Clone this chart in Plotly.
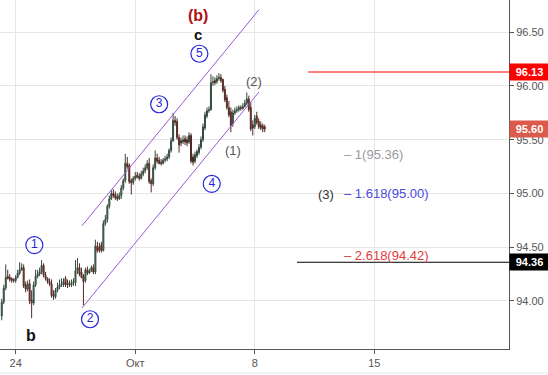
import plotly.graph_objects as go

# 2-hour bars; x = bar index, 0 = 24 Sep 00:00 (12 bars per trading day)
bar_index = list(range(-7, 126))

open_ = [93.86, 93.99, 94.12, 94.23, 94.22, 94.21, 94.20, 94.19, 94.22, 94.26,
         94.29, 94.31, 94.15, 94.11, 94.16, 94.01, 93.98, 94.15, 94.23, 94.25,
         94.27, 94.33, 94.24, 94.21, 94.18, 94.16, 94.06, 94.04, 94.10, 94.13,
         94.15, 94.15, 94.21, 94.17, 94.16, 94.15, 94.17, 94.17, 94.28, 94.31,
         94.27, 94.23, 94.19, 94.29, 94.26, 94.28, 94.31, 94.27, 94.51, 94.50,
         94.52, 94.47, 94.72, 94.76, 94.88, 94.95, 95.00, 94.99, 94.97, 94.95,
         94.98, 95.05, 95.12, 95.28, 95.26, 95.12, 95.10, 95.14, 95.17, 95.16,
         95.14, 95.18, 95.21, 95.24, 95.28, 95.12, 95.09, 95.24, 95.33, 95.31,
         95.29, 95.28, 95.31, 95.32, 95.34, 95.40, 95.49, 95.68, 95.67, 95.52,
         95.49, 95.48, 95.51, 95.50, 95.48, 95.54, 95.34, 95.30, 95.35, 95.38,
         95.43, 95.50, 95.61, 95.72, 95.77, 95.78, 96.03, 96.05, 96.04, 96.07,
         96.08, 96.06, 95.97, 95.89, 95.80, 95.76, 95.65, 95.75, 95.77, 95.78,
         95.80, 95.79, 95.81, 95.84, 95.88, 95.80, 95.64, 95.62, 95.72, 95.67,
         95.64, 95.63, 95.62]
high = [94.02, 94.15, 94.34, 94.29, 94.25, 94.22, 94.21, 94.24, 94.29, 94.36,
        94.35, 94.34, 94.18, 94.19, 94.20, 94.10, 94.18, 94.29, 94.29, 94.31,
        94.38, 94.35, 94.27, 94.22, 94.21, 94.20, 94.10, 94.12, 94.17, 94.20,
        94.21, 94.21, 94.23, 94.20, 94.19, 94.20, 94.21, 94.38, 94.40, 94.35,
        94.31, 94.25, 94.31, 94.32, 94.30, 94.33, 94.34, 94.57, 94.55, 94.54,
        94.55, 94.75, 94.80, 94.90, 94.98, 95.03, 95.04, 95.02, 95.00, 95.01,
        95.08, 95.14, 95.37, 95.34, 95.28, 95.14, 95.16, 95.20, 95.20, 95.19,
        95.21, 95.24, 95.27, 95.31, 95.33, 95.14, 95.27, 95.40, 95.37, 95.34,
        95.32, 95.33, 95.35, 95.37, 95.42, 95.52, 95.75, 95.72, 95.70, 95.55,
        95.52, 95.54, 95.54, 95.53, 95.57, 95.56, 95.37, 95.39, 95.41, 95.46,
        95.53, 95.65, 95.76, 95.80, 95.81, 96.11, 96.09, 96.08, 96.10, 96.12,
        96.11, 96.07, 96.00, 95.92, 95.86, 95.80, 95.78, 95.80, 95.81, 95.82,
        95.82, 95.84, 95.87, 95.94, 95.91, 95.85, 95.68, 95.73, 95.76, 95.70,
        95.67, 95.65, 95.64]
low = [93.82, 93.97, 94.10, 94.20, 94.18, 94.17, 94.17, 94.17, 94.21, 94.24,
       94.28, 94.12, 94.08, 94.09, 93.97, 93.84, 93.96, 94.13, 94.21, 94.23,
       94.25, 94.22, 94.19, 94.16, 94.14, 94.03, 94.01, 94.02, 94.08, 94.11,
       94.13, 94.13, 94.13, 94.12, 94.13, 94.13, 94.14, 94.14, 94.25, 94.23,
       94.21, 93.96, 94.17, 94.24, 94.25, 94.27, 94.25, 94.25, 94.45, 94.45,
       94.45, 94.46, 94.70, 94.73, 94.86, 94.94, 94.96, 94.94, 94.93, 94.94,
       94.95, 95.03, 95.10, 95.23, 95.09, 94.99, 95.08, 95.12, 95.14, 95.12,
       95.13, 95.16, 95.19, 95.22, 95.09, 95.01, 95.07, 95.22, 95.28, 95.27,
       95.26, 95.27, 95.29, 95.30, 95.32, 95.38, 95.48, 95.63, 95.50, 95.38,
       95.44, 95.46, 95.45, 95.44, 95.46, 95.28, 95.26, 95.28, 95.33, 95.36,
       95.41, 95.48, 95.59, 95.70, 95.75, 95.77, 96.00, 96.01, 96.02, 96.05,
       96.03, 95.94, 95.85, 95.78, 95.71, 95.57, 95.62, 95.73, 95.75, 95.76,
       95.77, 95.78, 95.80, 95.82, 95.76, 95.58, 95.54, 95.60, 95.64, 95.60,
       95.59, 95.57, 95.57]
close = [93.99, 94.12, 94.22, 94.21, 94.20, 94.19, 94.19, 94.22, 94.26, 94.29,
         94.31, 94.14, 94.11, 94.16, 94.00, 93.98, 94.15, 94.23, 94.25, 94.27,
         94.33, 94.24, 94.21, 94.18, 94.16, 94.05, 94.04, 94.10, 94.13, 94.15,
         94.16, 94.18, 94.15, 94.15, 94.15, 94.17, 94.18, 94.28, 94.31, 94.25,
         94.22, 94.18, 94.29, 94.26, 94.28, 94.31, 94.27, 94.51, 94.47, 94.47,
         94.47, 94.72, 94.76, 94.88, 94.95, 95.00, 94.98, 94.96, 94.95, 94.98,
         95.05, 95.12, 95.28, 95.25, 95.11, 95.10, 95.14, 95.16, 95.15, 95.14,
         95.18, 95.21, 95.24, 95.28, 95.11, 95.09, 95.24, 95.33, 95.30, 95.28,
         95.28, 95.31, 95.32, 95.34, 95.40, 95.49, 95.68, 95.66, 95.52, 95.45,
         95.47, 95.50, 95.48, 95.47, 95.54, 95.30, 95.29, 95.36, 95.39, 95.43,
         95.50, 95.62, 95.73, 95.77, 95.78, 96.03, 96.04, 96.03, 96.07, 96.08,
         96.05, 95.96, 95.87, 95.80, 95.73, 95.63, 95.75, 95.77, 95.78, 95.80,
         95.79, 95.81, 95.84, 95.88, 95.78, 95.60, 95.61, 95.70, 95.66, 95.62,
         95.61, 95.60, 95.60]

tick_vals = [0, 60, 120, 180]
tick_text = ["24", "Окт", "8", "15"]
y_ticks = [94.0, 94.5, 95.0, 95.5, 96.0, 96.5]
x_range = [-7.88, 247.6]
y_range = [93.553, 96.80]

# channel lines (x index, price)
upper_channel = [(33.3, 94.70), (122.1, 96.71)]
lower_channel = [(33.3, 93.935), (122.1, 95.944)]

# wave circles
circle_labels = ["1", "2", "3", "4", "5"]
circle_x = [9.35, 37.3, 72.0, 98.4, 92.2]
circle_y = [94.52, 93.83, 95.83, 95.09, 96.30]

# horizontal levels
level_red = 96.13
level_red_start = 146.8
level_black = 94.36
level_black_start = 141.2
last_price = 95.60

fib_texts = ["– 1(95.36)", "– 1.618(95.00)", "– 2.618(94.42)"]
fib_levels = [95.36, 95.00, 94.42]
fib_colors = ["#9a9a9a", "#4a4ae0", "#e03c3c"]
fib_x = 163.6

FONT = "Liberation Sans, Arial, sans-serif"

fig = go.Figure()
fig.add_trace(go.Candlestick(
    x=bar_index, open=open_, high=high, low=low, close=close,
    increasing=dict(fillcolor="#3b9560", line=dict(color="#33493b", width=1)),
    decreasing=dict(fillcolor="#d8392c", line=dict(color="#4f2a25", width=1)),
    whiskerwidth=0, showlegend=False, hoverinfo="skip"))

fig.add_trace(go.Scatter(
    x=circle_x, y=circle_y, mode="markers+text", text=circle_labels,
    textposition="middle center",
    textfont=dict(family=FONT, size=12, color="#2626d9"),
    marker=dict(symbol="circle-open", size=17, color="#2626d9", line=dict(width=1.2)),
    showlegend=False, hoverinfo="skip"))

shapes = [
    dict(type="line", xref="x", yref="y", x0=upper_channel[0][0], y0=upper_channel[0][1],
         x1=upper_channel[1][0], y1=upper_channel[1][1], line=dict(color="#9b59d0", width=1)),
    dict(type="line", xref="x", yref="y", x0=lower_channel[0][0], y0=lower_channel[0][1],
         x1=lower_channel[1][0], y1=lower_channel[1][1], line=dict(color="#9b59d0", width=1)),
    dict(type="line", xref="x", yref="y", x0=level_red_start, x1=x_range[1],
         y0=level_red, y1=level_red, line=dict(color="#ff0000", width=1)),
    dict(type="line", xref="x", yref="y", x0=level_black_start, x1=x_range[1],
         y0=level_black, y1=level_black, line=dict(color="#000000", width=1)),
    dict(type="line", xref="paper", yref="paper", x0=0, x1=548 / 509, y0=-0.069, y1=-0.069,
         line=dict(color="#e6e6e6", width=1)),
]

annotations = []
# wave labels
annotations.append(dict(x=91.4, y=96.66, text="<b>(b)</b>", showarrow=False,
                        font=dict(family=FONT, size=16, color="#b01010")))
annotations.append(dict(x=91.4, y=96.475, text="<b>c</b>", showarrow=False,
                        font=dict(family=FONT, size=15, color="#111111")))
annotations.append(dict(x=7.5, y=93.68, text="<b>b</b>", showarrow=False,
                        font=dict(family=FONT, size=16, color="#111111")))
annotations.append(dict(x=108.9, y=95.40, text="(1)", showarrow=False,
                        font=dict(family=FONT, size=13, color="#555555")))
annotations.append(dict(x=119.6, y=96.04, text="(2)", showarrow=False,
                        font=dict(family=FONT, size=13, color="#555555")))
annotations.append(dict(x=155.8, y=94.99, text="(3)", showarrow=False,
                        font=dict(family=FONT, size=13, color="#333333")))
for t, lv, c in zip(fib_texts, fib_levels, fib_colors):
    annotations.append(dict(x=fib_x, y=lv, text=t, showarrow=False, xanchor="left",
                            font=dict(family=FONT, size=13, color=c)))

# price labels on right axis
for val, bg in [(level_red, "#ff0000"), (last_price, "#db5a4b"), (level_black, "#000000")]:
    annotations.append(dict(xref="paper", yref="y", x=1, y=val, xanchor="left",
                            text="<b>%.2f</b>" % val, showarrow=False, bgcolor=bg,
                            width=35, height=12, borderpad=2, align="center",
                            font=dict(family=FONT, size=11, color="#ffffff")))

fig.update_layout(
    width=548, height=375,
    margin=dict(l=0, r=39, t=0, b=26),
    paper_bgcolor="white", plot_bgcolor="white",
    shapes=shapes, annotations=annotations,
    xaxis=dict(range=x_range, tickvals=tick_vals, ticktext=tick_text,
               showgrid=True, gridcolor="#e6e6e6", gridwidth=1,
               showline=True, linecolor="#555555", linewidth=1,
               ticks="outside", ticklen=4, tickcolor="#555555",
               tickfont=dict(family=FONT, size=11, color="#555555"),
               rangeslider=dict(visible=False), zeroline=False, fixedrange=True),
    yaxis=dict(range=y_range, side="right", tickvals=y_ticks, tickformat=".2f",
               showgrid=True, gridcolor="#e6e6e6", gridwidth=1,
               showline=True, linecolor="#555555", linewidth=1, mirror=False,
               ticks="outside", ticklen=4, tickcolor="#555555",
               tickfont=dict(family=FONT, size=11, color="#555555"),
               zeroline=False, fixedrange=True),
    font=dict(family=FONT),
)

fig.write_html("out.html")
